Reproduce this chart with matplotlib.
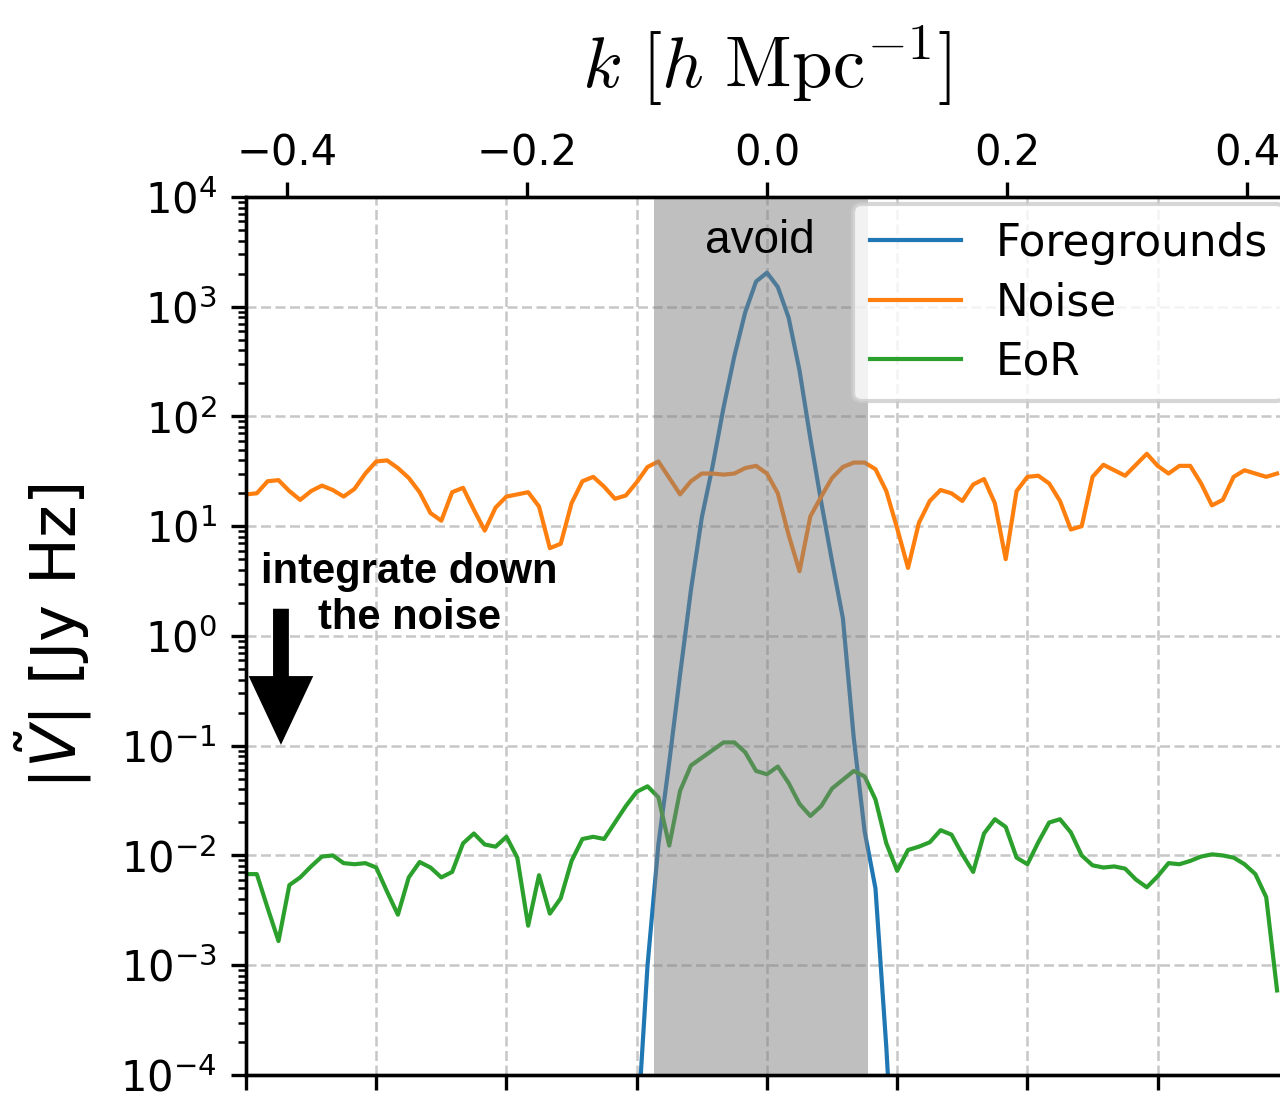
import numpy as np
import matplotlib
matplotlib.use('Agg')
import matplotlib.pyplot as plt
from matplotlib.ticker import LogLocator, NullFormatter

# delay channels (fft-shifted), 12 channels per delay unit
chan = np.arange(-48, 48)
tau = chan / 12.0
fg_chan = np.arange(-12, 13)
fg_tau = fg_chan / 12.0

# log10 |V|
fg_log10 = [-4.6, -3.0, -1.9, -1.15, -0.35, 0.42, 1.08, 1.55, 2.08, 2.55, 2.95, 3.23,
            3.31,
            3.18, 2.9, 2.42, 1.8, 1.22, 0.68, 0.16, -0.93, -1.78, -2.3, -3.75, -5.5]

noise_log10 = [1.29, 1.30, 1.41, 1.42, 1.32, 1.24, 1.32, 1.37, 1.33, 1.27, 1.34, 1.48,
               1.59, 1.60, 1.53, 1.44, 1.31, 1.12, 1.05, 1.31, 1.35, 1.15, 0.96, 1.17,
               1.27, 1.29, 1.31, 1.18, 0.80, 0.84, 1.21, 1.41, 1.45, 1.36, 1.25, 1.28,
               1.40, 1.54, 1.59, 1.44, 1.29, 1.41, 1.48, 1.48, 1.47, 1.48, 1.53, 1.55,
               1.48, 1.30, 0.92, 0.59, 1.09, 1.27, 1.44, 1.54, 1.58, 1.58, 1.52, 1.32,
               0.98, 0.62, 1.03, 1.23, 1.33, 1.30, 1.23, 1.38, 1.43, 1.21, 0.70, 1.32,
               1.45, 1.46, 1.39, 1.23, 0.97, 1.00, 1.45, 1.56, 1.51, 1.46, 1.56, 1.66,
               1.55, 1.48, 1.55, 1.55, 1.39, 1.19, 1.24, 1.45, 1.51, 1.48, 1.45, 1.48]

eor_log10 = [-2.17, -2.17, -2.48, -2.78, -2.27, -2.20, -2.10, -2.01, -2.00, -2.07, -2.08, -2.07,
             -2.11, -2.33, -2.54, -2.20, -2.06, -2.11, -2.20, -2.15, -1.89, -1.80, -1.90, -1.92,
             -1.83, -2.02, -2.64, -2.18, -2.53, -2.39, -2.05, -1.85, -1.83, -1.85, -1.70, -1.55,
             -1.42, -1.37, -1.47, -1.91, -1.41, -1.18, -1.11, -1.04, -0.97, -0.97, -1.06, -1.23,
             -1.26, -1.19, -1.34, -1.53, -1.64, -1.55, -1.39, -1.31, -1.23, -1.28, -1.49, -1.89,
             -2.14, -1.95, -1.92, -1.88, -1.77, -1.81, -1.99, -2.15, -1.80, -1.67, -1.74, -2.02,
             -2.08, -1.88, -1.70, -1.67, -1.79, -2.00, -2.09, -2.11, -2.10, -2.12, -2.22, -2.29,
             -2.19, -2.07, -2.08, -2.05, -2.01, -1.99, -2.00, -2.02, -2.08, -2.17, -2.38, -3.23]

K_PER_TAU = 0.1085          # k [h/Mpc] per delay unit
avoid_tau = (-0.87, 0.775)  # foreground wedge region

fig = plt.figure(figsize=(4.27, 3.66), dpi=300)
ax = fig.add_axes([0.192, 0.021, 0.8134, 0.7996])

ax.plot(fg_tau, 10 ** np.array(fg_log10), color='C0', lw=1.0, label='Foregrounds')
ax.plot(tau, 10 ** np.array(noise_log10), color='C1', lw=1.0, label='Noise')
ax.plot(tau, 10 ** np.array(eor_log10), color='C2', lw=1.0, label='EoR')

ax.axvspan(*avoid_tau, color='gray', alpha=0.5, lw=0, zorder=3)
ax.text(0.493, 0.95, 'avoid', transform=ax.transAxes, ha='center', va='center',
        fontsize=11, family='Liberation Sans', zorder=4)

ax.set_yscale('log')
ax.set_ylim(1e-4, 1e4)
ax.set_xlim(-4, 4)
ax.set_xticks(np.arange(-4, 5))
ax.tick_params(axis='x', labelbottom=False)
ax.yaxis.set_major_locator(LogLocator(base=10, numticks=20))
ax.yaxis.set_minor_locator(LogLocator(base=10, subs=np.arange(2, 10), numticks=100))
ax.yaxis.set_minor_formatter(NullFormatter())
ax.grid(True, which='major', ls=(0, (4, 1.8)), lw=0.6, color='0.78')

ax.set_ylabel(r'$|\tilde{V}|$ [Jy Hz]', fontsize=15)
ax.yaxis.set_label_coords(-0.146, 0.5)

ax.legend(loc='upper left', bbox_to_anchor=(0.5825, 0.992), borderaxespad=0,
          fontsize=10.5, handlelength=2.06, labelspacing=0.38)

# integrate-down annotation
ax.text(0.157, 0.547, 'integrate down\nthe noise', transform=ax.transAxes,
        ha='center', va='center', multialignment='center', fontsize=10,
        fontweight='bold', family='Liberation Sans', linespacing=1.2)
ax.annotate('', xy=(0.0336, 0.376), xytext=(0.0336, 0.531),
            xycoords='axes fraction', textcoords='axes fraction',
            arrowprops=dict(facecolor='black', edgecolor='black', lw=0,
                            width=3.8, headwidth=15.5, headlength=16.5, shrink=0))

# top axis in k
ax2 = ax.twiny()
ax2.set_xlim(-4 * K_PER_TAU, 4 * K_PER_TAU)
ax2.set_xticks([-0.4, -0.2, 0.0, 0.2, 0.4])
ax2.tick_params(axis='x', pad=2)
ax2.set_xlabel(r'$k\ [h\ \mathrm{Mpc}^{-1}]$', fontsize=17.5, math_fontfamily='cm')
ax2.xaxis.set_label_coords(0.5, 1.124)

fig.savefig('out.png', dpi=300)
